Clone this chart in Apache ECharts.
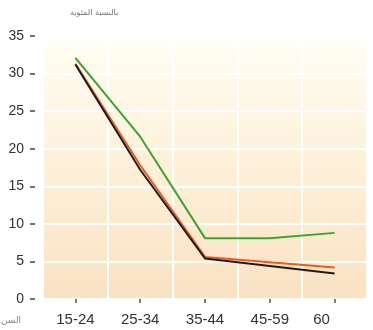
<!DOCTYPE html>
<html>
<head>
<meta charset="utf-8">
<script src="https://cdn.jsdelivr.net/npm/echarts@6/dist/echarts.min.js"></script>
<style>
html,body{margin:0;padding:0;background:#fff;}
#c{width:373px;height:330px;}
</style>
</head>
<body>
<div id="c"></div>
<script>
var categories = ['15-24', '25-34', '35-44', '45-59', '60'];
var greenValues = [32.1, 21.6, 8.1, 8.1, 8.8];
var orangeValues = [31.3, 17.8, 5.6, 4.9, 4.2];
var blackValues = [31.2, 17.2, 5.4, 4.4, 3.4];
var yTicks = {min: 0, max: 35, interval: 5};
var yTitle = 'بالنسبة المئوية';
var xTitle = 'السن';

var chart = echarts.init(document.getElementById('c'), null, {renderer: 'canvas'});
var font = 'Liberation Sans, Arial, sans-serif';
function lineSeries(name, data, color) {
  return {
    name: name, type: 'line', data: data, symbol: 'none',
    lineStyle: {color: color, width: 2}, z: 3
  };
}
chart.setOption({
  animation: false,
  grid: {
    left: 43, right: 6, top: 36, bottom: 31,
    show: true, borderWidth: 0,
    backgroundColor: {
      type: 'linear', x: 0, y: 0, x2: 0, y2: 1,
      colorStops: [
        {offset: 0, color: '#ffffff'},
        {offset: 0.07, color: '#fffcf0'},
        {offset: 0.5, color: '#fdf0da'},
        {offset: 1, color: '#fae2c3'}
      ]
    }
  },
  xAxis: {
    type: 'category',
    data: categories.map(function (c, i) {
      return i === categories.length - 1 ? {value: c, textStyle: {padding: [0, 26, 0, 0]}} : c;
    }),
    boundaryGap: true,
    offset: 5,
    axisLine: {show: false},
    axisTick: {show: true, alignWithLabel: true, length: 4, lineStyle: {color: '#555', width: 1.5}},
    axisLabel: {color: '#333', fontSize: 15, fontFamily: font, margin: 8},
    splitLine: {show: true, interval: 0, lineStyle: {color: '#ffffff', width: 2}}
  },
  yAxis: {
    type: 'value',
    min: yTicks.min, max: yTicks.max, interval: yTicks.interval,
    offset: 8,
    axisLine: {show: false},
    axisTick: {show: true, length: 5, inside: false, lineStyle: {color: '#444', width: 1.5}},
    axisLabel: {color: '#333', fontSize: 14, fontFamily: font, margin: 11},
    splitLine: {show: true, lineStyle: {color: '#ffffff', width: 2}}
  },
  graphic: [
    {type: 'text', left: 70, top: 9, style: {text: yTitle, fill: '#777', font: '8px "DejaVu Sans", sans-serif'}},
    {type: 'text', left: 1, top: 316, style: {text: xTitle, fill: '#888', font: '9px "DejaVu Sans", sans-serif'}}
  ],
  series: [
    lineSeries('green', greenValues, '#3aa62c'),
    lineSeries('orange', orangeValues, '#ee5a1c'),
    lineSeries('black', blackValues, '#231a17')
  ]
});
</script>
</body>
</html>
